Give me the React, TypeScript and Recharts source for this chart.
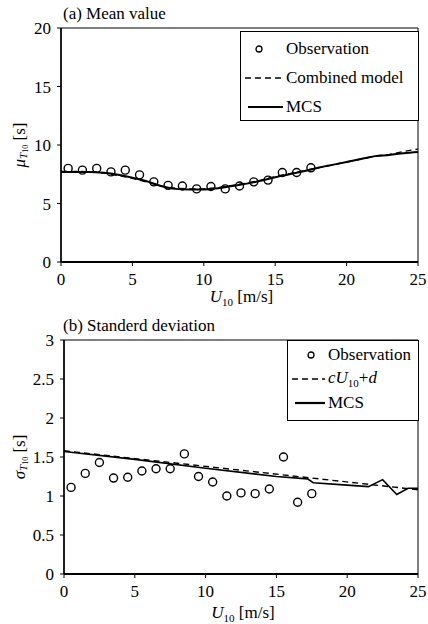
import React from 'react';
import {
  ComposedChart,
  Line,
  Scatter,
  XAxis,
  YAxis,
  ReferenceArea,
} from 'recharts';

const FONT = 'Liberation Serif';

// observation wind speed bins
const obsX = [0.5, 1.5, 2.5, 3.5, 4.5, 5.5, 6.5, 7.5, 8.5, 9.5, 10.5, 11.5, 12.5, 13.5, 14.5, 15.5, 16.5, 17.5];

// (a) mean value
const meanObs = [8.0, 7.85, 8.0, 7.7, 7.85, 7.45, 6.85, 6.55, 6.5, 6.25, 6.45, 6.25, 6.5, 6.85, 7.0, 7.65, 7.65, 8.05];
const meanMcsX = [0, 1, 2, 3, 4, 5, 6, 7, 8, 9, 10, 11, 12, 13, 14, 15, 16, 17, 18, 19, 20, 21, 22, 23, 24, 25];
const meanMcs = [7.7, 7.7, 7.7, 7.62, 7.45, 7.2, 6.9, 6.5, 6.25, 6.2, 6.2, 6.3, 6.5, 6.7, 6.95, 7.25, 7.5, 7.75, 8.05, 8.3, 8.55, 8.8, 9.05, 9.15, 9.3, 9.4];
const meanComb = [7.75, 7.74, 7.72, 7.6, 7.4, 7.15, 6.85, 6.5, 6.3, 6.25, 6.25, 6.35, 6.55, 6.75, 7.0, 7.3, 7.55, 7.8, 8.05, 8.3, 8.55, 8.8, 9.05, 9.2, 9.45, 9.65];

// (b) standard deviation
const stdObs = [1.11, 1.29, 1.43, 1.23, 1.24, 1.32, 1.35, 1.35, 1.54, 1.25, 1.18, 1.0, 1.04, 1.03, 1.09, 1.5, 0.92, 1.03];
const stdMcsX = [0, 5, 10, 15, 17.2, 17.6, 20, 21.5, 22.5, 23.5, 24.3, 25];
const stdMcs = [1.57, 1.47, 1.355, 1.25, 1.22, 1.17, 1.14, 1.12, 1.21, 1.02, 1.1, 1.1];
const stdFitX = [0, 25];
const stdFit = [1.58, 1.08];

const xTicks = [0, 5, 10, 15, 20, 25];
const meanTicks = [0, 5, 10, 15, 20];
const stdTicks = [0, 0.5, 1, 1.5, 2, 2.5, 3];

const zip = (xs: number[], ys: number[]) => xs.map((x, i) => ({ x, y: ys[i] }));

const tickStyle = { fontFamily: FONT, fontSize: 17, fill: '#000' };

const YLabel = ({ viewBox, sym }: any) => {
  const cx = 19;
  const cy = viewBox.y + viewBox.height / 2;
  return (
    <text
      x={cx}
      y={cy}
      transform={`rotate(-90 ${cx} ${cy})`}
      textAnchor="middle"
      dominantBaseline="central"
      fontFamily={FONT}
      fontSize={17}
      fill="#000"
    >
      <tspan fontStyle="italic">{sym}</tspan>
      <tspan fontStyle="italic" fontSize={11} dy={4}>T</tspan>
      <tspan fontSize={8} dy={2}>10</tspan>
      <tspan dy={-6}> [s]</tspan>
    </text>
  );
};

const XLabel = ({ viewBox, dy }: any) => {
  const cx = viewBox.x + viewBox.width / 2 + 2;
  const cy = viewBox.y + dy;
  return (
    <text x={cx} y={cy} textAnchor="middle" fontFamily={FONT} fontSize={17} fill="#000">
      <tspan fontStyle="italic">U</tspan>
      <tspan fontSize={11} dy={4}>10</tspan>
      <tspan dy={-4}> [m/s]</tspan>
    </text>
  );
};

const Sym = ({ kind, w, c }: { kind: string; w: number; c: number }) => (
  <svg width={w} height={14} style={{ display: 'block', flex: 'none' }}>
    {kind === 'circle' && <circle cx={c} cy={7} r={3} fill="none" stroke="#000" strokeWidth={1.3} />}
    {kind === 'dash' && <line x1={1} y1={7} x2={w - 1} y2={7} stroke="#000" strokeWidth={1.6} strokeDasharray="6 4" />}
    {kind === 'solid' && <line x1={4} y1={7} x2={w - 1} y2={7} stroke="#000" strokeWidth={2.2} />}
  </svg>
);

const LegendBox = ({
  rows,
  rowGap,
  left,
  top,
  width,
  height,
  symW,
  circleX,
}: {
  rows: { kind: string; label: React.ReactNode }[];
  rowGap: number;
  left: number;
  top: number;
  width: number;
  height: number;
  symW: number;
  circleX: number;
}) => (
  <div
    style={{
      position: 'absolute',
      left,
      top,
      width,
      height,
      border: '1px solid #000',
      background: '#fff',
      padding: '2px 0 0 3px',
      fontFamily: FONT,
      fontSize: 17,
      color: '#000',
      boxSizing: 'border-box',
    }}
  >
    {rows.map((r, i) => (
      <div key={i} style={{ display: 'flex', alignItems: 'center', height: rowGap }}>
        <Sym kind={r.kind} w={symW} c={circleX} />
        <span style={{ marginLeft: 2, whiteSpace: 'nowrap' }}>{r.label}</span>
      </div>
    ))}
  </div>
);

const circleShape = (p: any) => (
  <circle cx={p.cx} cy={p.cy} r={4} fill="none" stroke="#000" strokeWidth={1.4} />
);

export default function App() {
  return (
    <div style={{ position: 'absolute', left: 0, top: 0, width: 428, height: 624, background: '#fff' }}>
      <div style={{ position: 'absolute', left: 0, top: 0 }}>
        <ComposedChart width={428} height={310} margin={{ top: 28, right: 10, bottom: 0, left: 0 }}>
          <XAxis
            type="number"
            dataKey="x"
            domain={[0, 25]}
            ticks={xTicks}
            allowDataOverflow
            height={48}
            tickSize={4}
            tickMargin={7}
            tick={tickStyle}
            axisLine={{ stroke: '#000', strokeWidth: 2 }}
            tickLine={{ stroke: '#000' }}
            label={<XLabel dy={40} />}
          />
          <YAxis
            type="number"
            dataKey="y"
            domain={[0, 20]}
            ticks={meanTicks}
            width={61}
            tickSize={4}
            tickMargin={6}
            tick={tickStyle}
            axisLine={{ stroke: '#000', strokeWidth: 1.5 }}
            tickLine={{ stroke: '#000' }}
            label={<YLabel sym="μ" />}
          />
          <ReferenceArea x1={0} x2={25} y1={0} y2={20} fill="none" stroke="#000" strokeWidth={1} />
          <Line data={zip(meanMcsX, meanComb)} dataKey="y" stroke="#000" strokeWidth={1.4} strokeDasharray="6 4" dot={false} isAnimationActive={false} type="linear" />
          <Line data={zip(meanMcsX, meanMcs)} dataKey="y" stroke="#000" strokeWidth={2} dot={false} isAnimationActive={false} type="monotone" />
          <Scatter data={zip(obsX, meanObs)} dataKey="y" shape={circleShape} isAnimationActive={false} />
        </ComposedChart>
      </div>

      <div style={{ position: 'absolute', left: 0, top: 312 }}>
        <ComposedChart width={428} height={312} margin={{ top: 28, right: 10, bottom: 0, left: 0 }}>
          <XAxis
            type="number"
            dataKey="x"
            domain={[0, 25]}
            ticks={xTicks}
            allowDataOverflow
            height={50}
            tickSize={4}
            tickMargin={7}
            tick={tickStyle}
            axisLine={{ stroke: '#000', strokeWidth: 2 }}
            tickLine={{ stroke: '#000' }}
            label={<XLabel dy={44} />}
          />
          <YAxis
            type="number"
            dataKey="y"
            domain={[0, 3]}
            ticks={stdTicks}
            width={64}
            tickSize={4}
            tickMargin={6}
            tick={tickStyle}
            axisLine={{ stroke: '#000', strokeWidth: 1.5 }}
            tickLine={{ stroke: '#000' }}
            label={<YLabel sym="σ" />}
          />
          <ReferenceArea x1={0} x2={25} y1={0} y2={3} fill="none" stroke="#000" strokeWidth={1} />
          <Line data={zip(stdFitX, stdFit)} dataKey="y" stroke="#000" strokeWidth={1.4} strokeDasharray="6 4" dot={false} isAnimationActive={false} type="linear" />
          <Line data={zip(stdMcsX, stdMcs)} dataKey="y" stroke="#000" strokeWidth={1.6} dot={false} isAnimationActive={false} type="linear" />
          <Scatter data={zip(obsX, stdObs)} dataKey="y" shape={circleShape} isAnimationActive={false} />
        </ComposedChart>
      </div>

      <div style={{ position: 'absolute', left: 63, top: 4, fontFamily: FONT, fontSize: 17 }}>(a) Mean value</div>
      <div style={{ position: 'absolute', left: 63, top: 316, fontFamily: FONT, fontSize: 17 }}>(b) Standerd deviation</div>

      <LegendBox
        left={240}
        top={31}
        width={179}
        height={90}
        rowGap={29}
        symW={40}
        circleX={15}
        rows={[
          { kind: 'circle', label: 'Observation' },
          { kind: 'dash', label: 'Combined model' },
          { kind: 'solid', label: 'MCS' },
        ]}
      />
      <LegendBox
        left={287}
        top={340}
        width={132}
        height={81}
        rowGap={24}
        symW={35}
        circleX={20}
        rows={[
          { kind: 'circle', label: 'Observation' },
          {
            kind: 'dash',
            label: (
              <span>
                <i>c</i>
                <i>U</i>
                <sub style={{ fontSize: 11 }}>10</sub>+<i>d</i>
              </span>
            ),
          },
          { kind: 'solid', label: 'MCS' },
        ]}
      />
    </div>
  );
}
